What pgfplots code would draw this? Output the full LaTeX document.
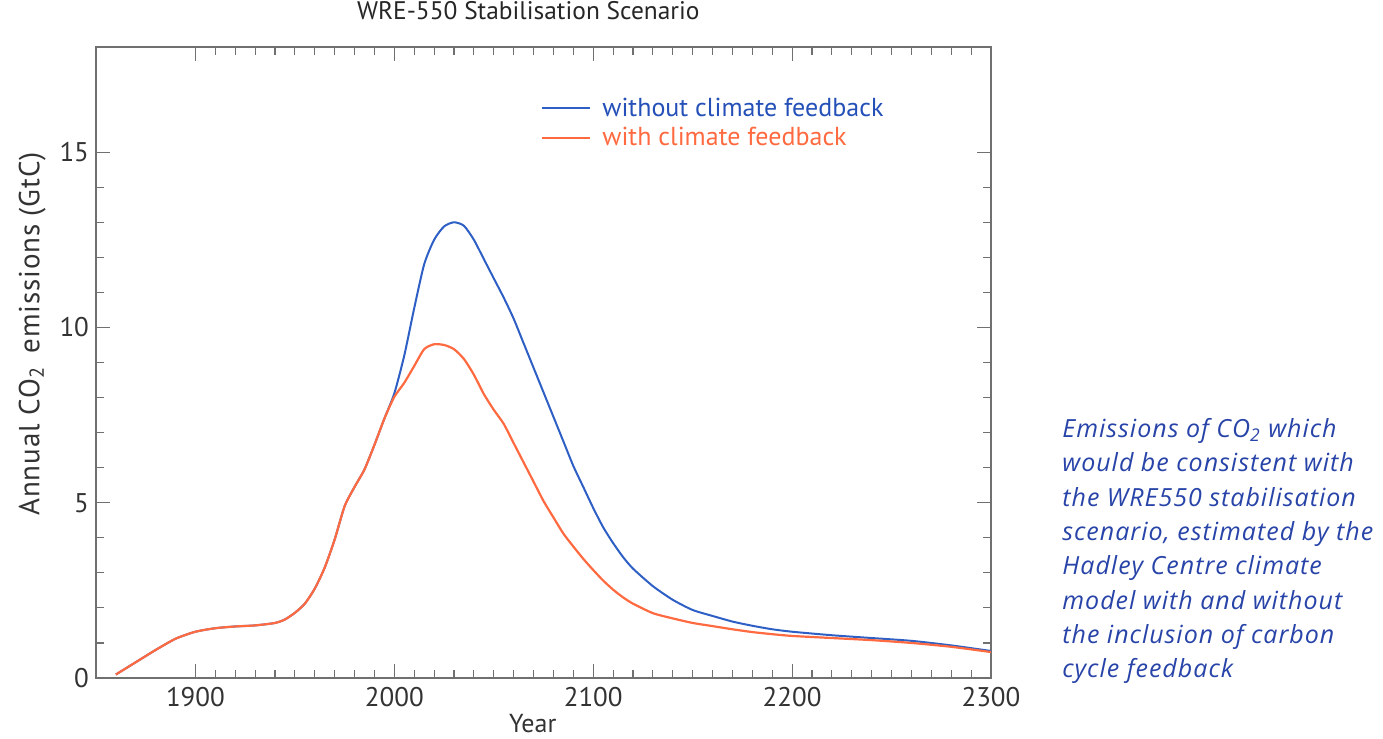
\documentclass[border=0pt]{standalone}
\usepackage{pgfplots}
\pgfplotsset{compat=1.18}
\usepackage{fontspec}
\setmainfont{PT Sans}
\newfontfamily\notefont[LetterSpace=4]{Open Sans}
\newfontfamily\ylabfont[LetterSpace=3]{PT Sans}
\definecolor{nofb}{HTML}{2E5FC4}
\definecolor{nofbtext}{HTML}{2450B8}
\definecolor{wfb}{HTML}{FF6A40}
\definecolor{notecol}{HTML}{2844A8}
\definecolor{axcol}{HTML}{707070}

\pgfplotstableread{
year val
1860 0.10
1870 0.45
1880 0.80
1890 1.12
1900 1.32
1910 1.42
1920 1.47
1930 1.50
1940 1.57
1945 1.67
1950 1.86
1955 2.12
1960 2.55
1965 3.15
1970 3.95
1975 4.90
1980 5.45
1985 5.95
1990 6.65
1995 7.40
2000 8.12
2005 9.20
2010 10.55
2015 11.80
2020 12.50
2025 12.88
2030 13.00
2035 12.90
2040 12.50
2045 11.95
2050 11.40
2055 10.85
2060 10.25
2065 9.55
2070 8.85
2075 8.15
2080 7.45
2085 6.75
2090 6.05
2095 5.45
2100 4.85
2105 4.30
2110 3.85
2115 3.45
2120 3.12
2130 2.62
2140 2.23
2150 1.94
2160 1.77
2170 1.61
2180 1.49
2190 1.39
2200 1.32
2220 1.22
2240 1.14
2260 1.06
2280 0.93
2300 0.77
}\nofeedback

\pgfplotstableread{
year val
1860 0.10
1870 0.45
1880 0.80
1890 1.12
1900 1.32
1910 1.42
1920 1.47
1930 1.50
1940 1.57
1945 1.67
1950 1.86
1955 2.12
1960 2.55
1965 3.15
1970 3.95
1975 4.90
1980 5.45
1985 5.95
1990 6.65
1995 7.40
2000 8.02
2005 8.42
2010 8.90
2015 9.38
2020 9.52
2025 9.50
2030 9.38
2035 9.10
2040 8.65
2045 8.10
2050 7.65
2055 7.25
2060 6.70
2065 6.15
2070 5.60
2075 5.05
2080 4.58
2085 4.12
2090 3.75
2095 3.40
2100 3.08
2105 2.78
2110 2.52
2115 2.30
2120 2.12
2130 1.85
2140 1.70
2150 1.57
2160 1.48
2170 1.39
2180 1.31
2190 1.25
2200 1.20
2220 1.14
2240 1.08
2260 1.00
2280 0.89
2300 0.74
}\withfeedback

\begin{document}
\begin{tikzpicture}
\path[use as bounding box] (0,0) rectangle (691.5pt,369.5pt);
\begin{axis}[
  at={(48pt,30.5pt)}, anchor=south west,
  scale only axis, width=447.5pt, height=315.5pt,
  xmin=1850, xmax=2300, ymin=0, ymax=18,
  xtick={1900,2000,2100,2200,2300},
  minor x tick num=9,
  ytick={0,5,10,15},
  minor y tick num=4,
  tick align=inside,
  xtick pos=both, ytick pos=both,
  axis line style={axcol, line width=0.8pt},
  every tick/.style={axcol, line width=0.6pt},
  major tick length=7pt, minor tick length=4pt,
  tick label style={font=\fontsize{13.5}{15}\selectfont, text=black!80},
  /pgf/number format/assume math mode=true,
  /pgf/number format/1000 sep={},
  xticklabel style={yshift=-1pt},
  xlabel={Year},
  ylabel={Annual CO\textsubscript{2}\, emissions (GtC)},
  label style={font=\fontsize{13}{15}\selectfont, text=black!80},
  xlabel style={at={(ticklabel cs:0.488)}, anchor=north, yshift=3pt},
  ylabel style={at={(ticklabel cs:0.539)}, anchor=south, xshift=2pt,
    font=\ylabfont\fontsize{14.5}{16}\selectfont},
  title={WRE-550 Stabilisation Scenario},
  title style={at={(0.483,1)}, yshift=4pt, font=\fontsize{12.7}{14}\selectfont, text=black!85},
  legend style={at={(0.497,0.925)}, anchor=north west, draw=none, fill=none,
    font=\fontsize{13}{15}\selectfont, row sep=1pt, inner sep=0pt,
    nodes={inner sep=1.5pt}},
  legend cell align=left,
  legend image code/.code={\draw[#1] (0pt,0pt) -- (24pt,0pt);},
]
\addplot[nofb, line width=1pt, smooth, tension=0.4] table[x=year, y=val] {\nofeedback};
\addlegendentry{\hspace{4pt}\textcolor{nofbtext}{without climate feedback}}
\addplot[wfb, line width=1.1pt, smooth, tension=0.4] table[x=year, y=val] {\withfeedback};
\addlegendentry{\hspace{4pt}\textcolor{wfb}{with climate feedback}}
\end{axis}
\node[anchor=north west, align=left, inner sep=0pt, text=notecol,
  font=\notefont\itshape\fontsize{12.5}{17.15}\selectfont] at (531pt,160.5pt) {%
Emissions of CO\textsubscript{2} which\\
would be consistent with\\
the WRE550 stabilisation\\
scenario, estimated by the\\
Hadley Centre climate\\
model with and without\\
the inclusion of carbon\\
cycle feedback};
\end{tikzpicture}
\end{document}
